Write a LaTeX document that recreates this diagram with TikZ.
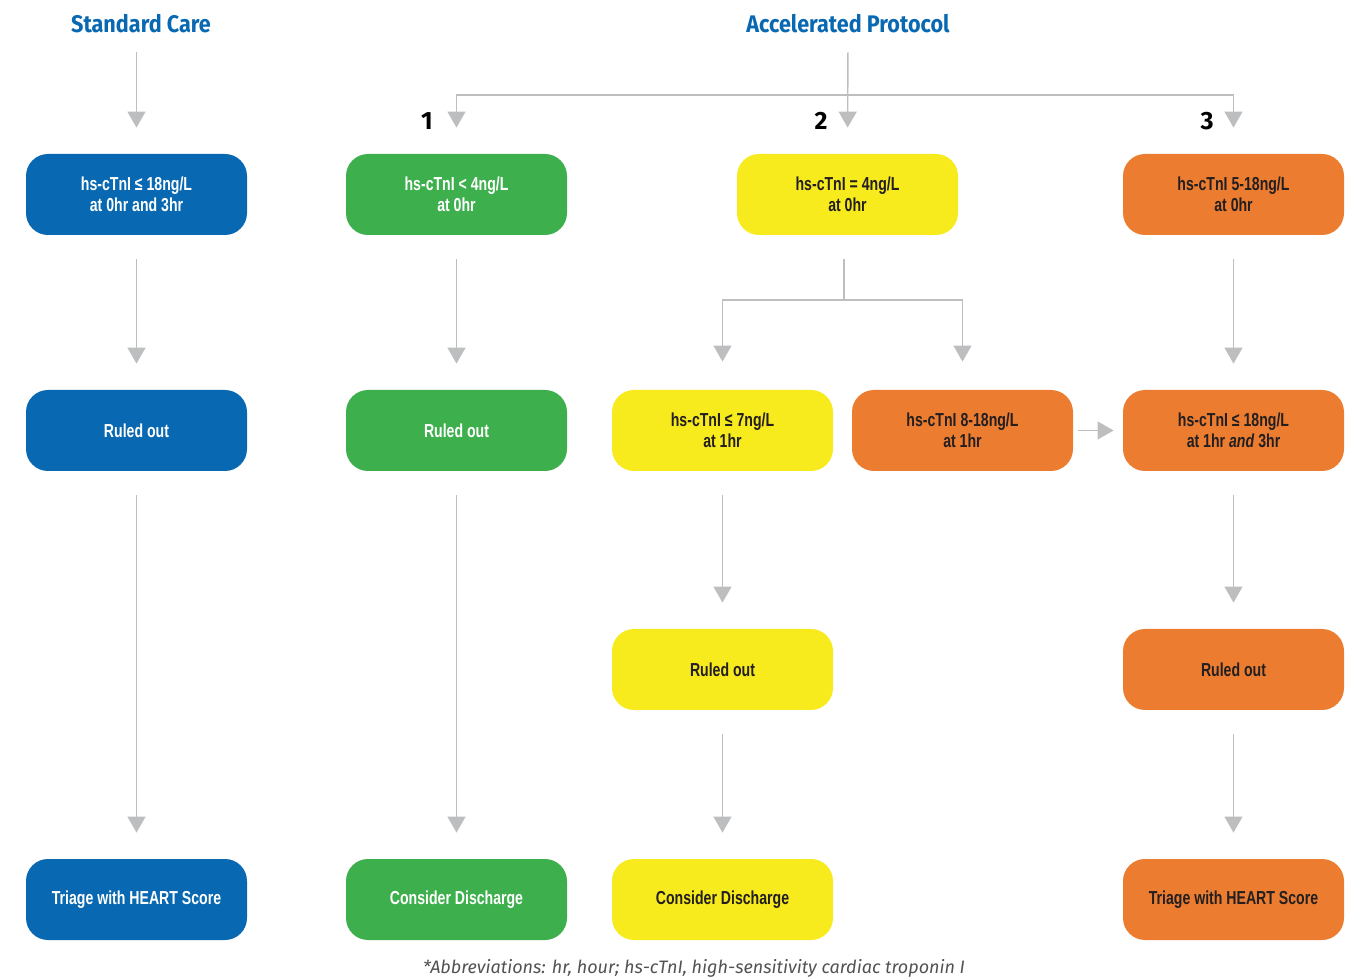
\documentclass[tikz,border=0pt]{standalone}
\usepackage{fontspec}
\setmainfont{Liberation Sans}[FakeStretch=0.75]
\newfontfamily\headfont{Fira Sans}
\newfontfamily\titlefont{Fira Sans}[FakeStretch=0.9]
\usetikzlibrary{arrows.meta}
\definecolor{careblue}{HTML}{0868B1}
\definecolor{caregreen}{HTML}{3DB04D}
\definecolor{careyellow}{HTML}{F7EB1E}
\definecolor{careorange}{HTML}{EC7D30}
\definecolor{arrgray}{HTML}{BDBEC0}
\definecolor{inkdark}{HTML}{231F20}

\begin{document}
\begin{tikzpicture}[x=0.5pt,y=-0.5pt,
  box/.style={rounded corners=11pt,minimum width=110.5pt,minimum height=40.5pt,
    inner sep=0pt,align=center,font=\bfseries\fontsize{9.4}{10.5}\selectfont},
  bluebox/.style={box,fill=careblue,text=white},
  greenbox/.style={box,fill=caregreen,text=white},
  yellowbox/.style={box,fill=careyellow,text=inkdark},
  orangebox/.style={box,fill=careorange,text=inkdark},
  arr/.style={draw=arrgray,line width=0.7pt,-{Triangle[width=9pt,length=8pt]},
    shorten <=12pt,shorten >=13pt},
  line/.style={draw=arrgray,line width=0.7pt},
  head/.style={font=\titlefont\bfseries\fontsize{12}{14}\selectfont,text=careblue},
  num/.style={font=\headfont\bfseries\fontsize{12.5}{14}\selectfont,text=black}]
\useasboundingbox (0,0) rectangle (1356,978);

% headings
\node[head] (std) at (141,24) {Standard Care};
\node[head] (acc) at (848,24) {Accelerated Protocol};

% standard care column
\node[bluebox] (b1) at (136.5,194.5) {hs-cTnI ≤ 18ng/L\\at 0hr and 3hr};
\node[bluebox] (b2) at (136.5,430.5) {Ruled out};
\node[bluebox] (b3) at (136.5,899.5) {Triage with HEART Score};

% pathway 1
\node[greenbox] (g1) at (456.5,194.5) {hs-cTnI < 4ng/L\\at 0hr};
\node[greenbox] (g2) at (456.5,430.5) {Ruled out};
\node[greenbox] (g3) at (456.5,899.5) {Consider Discharge};

% pathway 2
\node[yellowbox] (y1) at (847.5,194.5) {hs-cTnI = 4ng/L\\at 0hr};
\node[yellowbox] (y2) at (722.5,430.5) {hs-cTnI ≤ 7ng/L\\at 1hr};
\node[orangebox] (o2) at (962.5,430.5) {hs-cTnI 8-18ng/L\\at 1hr};
\node[yellowbox] (y3) at (722.5,669.5) {Ruled out};
\node[yellowbox] (y4) at (722.5,899.5) {Consider Discharge};

% pathway 3
\node[orangebox] (r1) at (1233.5,194.5) {hs-cTnI 5-18ng/L\\at 0hr};
\node[orangebox] (r2) at (1233.5,430.5) {hs-cTnI ≤ 18ng/L\\at 1hr \textit{and} 3hr};
\node[orangebox] (r3) at (1233.5,669.5) {Ruled out};
\node[orangebox] (r4) at (1233.5,899.5) {Triage with HEART Score};

% pathway numbers
\node[num] (n1) at (427,121) {1};
\node[num] (n2) at (821,121) {2};
\node[num] (n3) at (1207,121) {3};

% connectors
\coordinate (split) at (847.5,95);
\coordinate (fork) at (844,300);
\draw[arr,shorten <=6pt] (std.south -| b1.north) -- (b1.north);
\draw[arr,shorten <=6pt] (acc.south) -- (y1.north);
\draw[arr,shorten <=0pt] (split) -| (g1.north);
\draw[arr,shorten <=0pt] (split) -| (r1.north);
\foreach \a/\b in {b1/b2, b2/b3, g1/g2, g2/g3, y2/y3, y3/y4, r1/r2, r2/r3, r3/r4}
  \draw[arr] (\a.south) -- (\b.north);
\draw[line,shorten <=12pt] (y1.south -| fork) -- (fork);
\draw[arr,shorten <=0pt,shorten >=14pt] (fork) -| (y2.north);
\draw[arr,shorten <=0pt,shorten >=14pt] (fork) -| (o2.north);
\draw[arr,shorten <=2.5pt,shorten >=4.5pt] (o2.east) -- (r2.west);

% footnote
\node[font=\headfont\itshape\fontsize{9}{10}\selectfont,text=black!68] (note) at (694,968)
  {*Abbreviations: hr, hour; hs-cTnI, high-sensitivity cardiac troponin I};
\end{tikzpicture}
\end{document}
